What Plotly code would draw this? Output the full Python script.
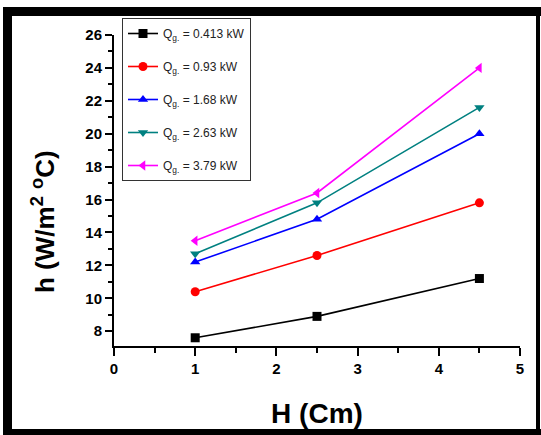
import plotly.graph_objects as go

H_cm = [1, 2.5, 4.5]
h_0413 = [7.6, 8.9, 11.2]
h_093 = [10.4, 12.6, 15.8]
h_168 = [12.2, 14.8, 20.0]
h_263 = [12.7, 15.8, 21.6]
h_379 = [13.5, 16.4, 24.0]
labels = ["0.413", "0.93", "1.68", "2.63", "3.79"]
x_ticks = [0, 1, 2, 3, 4, 5]
y_ticks = [8, 10, 12, 14, 16, 18, 20, 22, 24, 26]

series = [h_0413, h_093, h_168, h_263, h_379]
colors = ["#000000", "#ff0000", "#0000ff", "#008080", "#ff00ff"]
symbols = ["square", "circle", "triangle-up", "triangle-down", "triangle-left"]

W, Hh = 541, 435
L, R, T, B = 114, 21, 35, 89
pw, ph = W - L - R, Hh - T - B

def px2u(px):
    return (px - L) / pw

def py2v(py):
    return 1 - (py - T) / ph

fig = go.Figure()
for i, (ys, c, s, lab) in enumerate(zip(series, colors, symbols, labels)):
    fig.add_trace(go.Scatter(
        x=H_cm, y=ys, mode="lines+markers",
        name=f"Q<sub>g.</sub> = {lab} kW",
        legendgroup=f"g{i}",
        line=dict(color=c, width=1.6),
        marker=dict(symbol=s, size=9, color=c),
    ))

shapes = []
# outer frame
frame = [
    (3, 7, 12, 435),      # left
    (3, 7, 541, 16),      # top
    (3, 429, 541, 435),   # bottom
    (536, 7, 540, 435),   # right
]
for x0, y0, x1, y1 in frame:
    shapes.append(dict(type="rect", xref="paper", yref="paper",
                       x0=px2u(x0), x1=px2u(x1), y0=py2v(y1), y1=py2v(y0),
                       fillcolor="black", line=dict(width=0), layer="above"))

fig.update_layout(
    width=W, height=Hh,
    margin=dict(l=L, r=R, t=T, b=B),
    paper_bgcolor="white", plot_bgcolor="white",
    font=dict(family="Liberation Sans, Arial, sans-serif", color="black"),
    shapes=shapes,
    showlegend=True,
    legend=dict(
        x=px2u(122), y=py2v(18), xanchor="left", yanchor="top",
        bgcolor="white", bordercolor="#333333", borderwidth=1,
        font=dict(size=12, color="#222222"),
        tracegroupgap=14,
    ),
    annotations=[dict(
        text="h (W/m<sup>2</sup> <sup>o</sup>C)", textangle=-90,
        xref="paper", yref="paper", x=px2u(43), y=py2v(222),
        xanchor="center", yanchor="middle", showarrow=False,
        font=dict(size=26, weight="bold", color="black"),
    )],
    xaxis=dict(
        range=[0, 5], tickvals=x_ticks, ticktext=[str(v) for v in x_ticks],
        showgrid=False, zeroline=False,
        showline=True, linecolor="black", linewidth=2,
        ticks="outside", ticklen=8, tickwidth=2, tickcolor="black",
        minor=dict(dtick=0.5, ticks="outside", ticklen=5, tickwidth=2, tickcolor="black", showgrid=False),
        tickfont=dict(size=15, weight="bold"),
        title=dict(text="H (Cm)", font=dict(size=28, weight="bold"), standoff=27),
    ),
    yaxis=dict(
        range=[7.1, 26], tickvals=y_ticks, ticktext=[str(v) for v in y_ticks],
        showgrid=False, zeroline=False,
        showline=True, linecolor="black", linewidth=2,
        ticks="outside", ticklen=7, tickwidth=2, tickcolor="black",
        minor=dict(dtick=1, ticks="outside", ticklen=4, tickwidth=2, tickcolor="black", showgrid=False),
        tickfont=dict(size=15, weight="bold"),
    ),
)

fig.write_html("out.html")
